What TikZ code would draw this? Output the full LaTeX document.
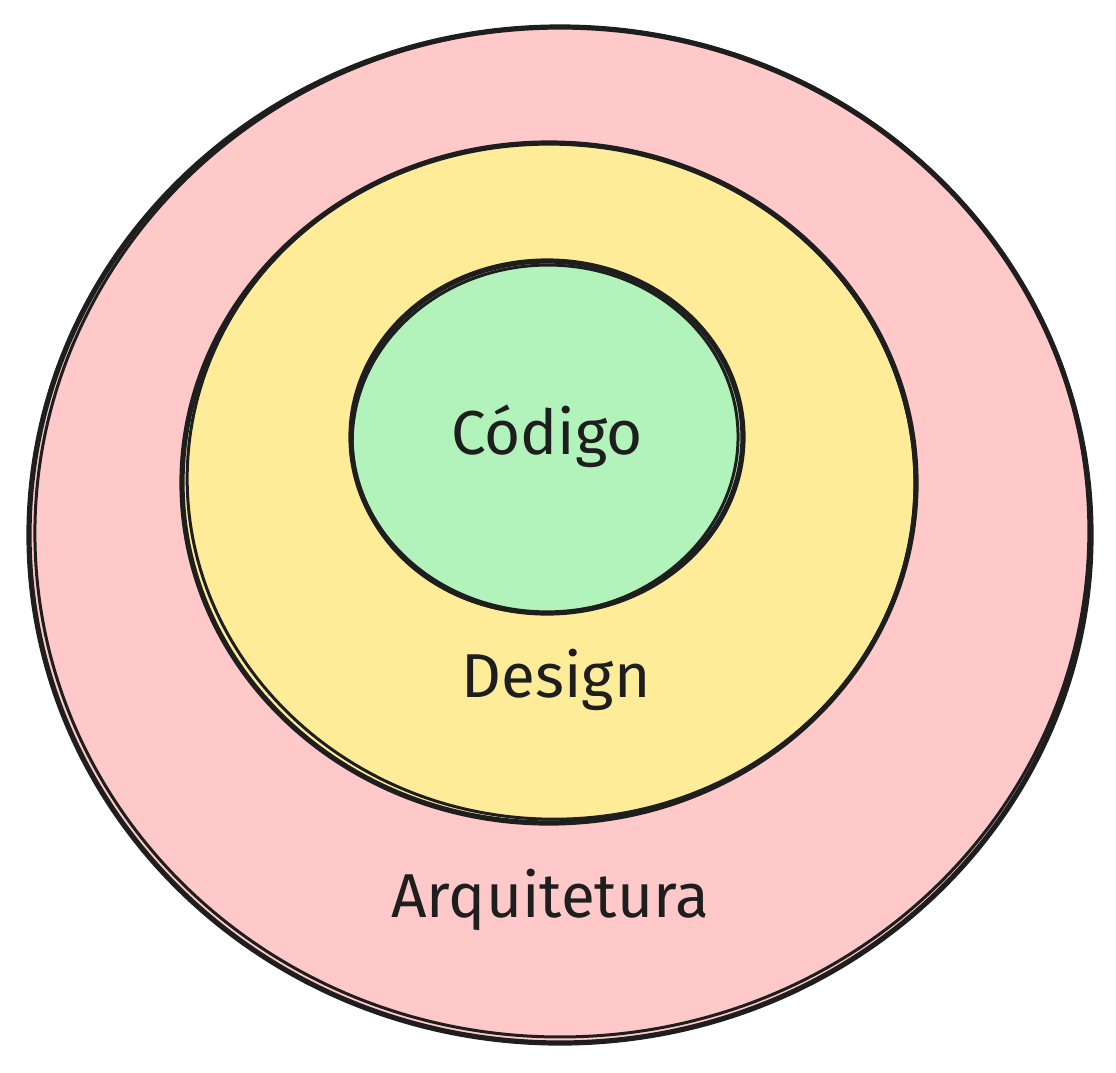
\documentclass[tikz,border=0pt]{standalone}
\usepackage{fontspec}
\setmainfont{Fira Sans}
\definecolor{pinkfill}{HTML}{FFC9C9}
\definecolor{yellowfill}{HTML}{FFEC99}
\definecolor{greenfill}{HTML}{B2F2BB}
\definecolor{ink}{HTML}{1E1E1E}
\begin{document}
\begin{tikzpicture}[x=1pt,y=-1pt,
  stroke/.style={draw=ink,line width=5.2pt},
  stroke2/.style={draw=ink,line width=3pt},
  label/.style={font=\fontsize{62}{68}\selectfont,text=ink,inner sep=0pt}]
\useasboundingbox (0,0) rectangle (1116,1072);
% outer (Arquitetura)
\fill[pinkfill] (560,535) ellipse [x radius=531, y radius=508];
\draw[stroke] (560,535) ellipse [x radius=531, y radius=508];
\draw[stroke2, rotate around={2:(560,535)}] (562,532) ellipse [x radius=527, y radius=505];
% middle (Design)
\fill[yellowfill] (549,483) ellipse [x radius=367, y radius=340];
\draw[stroke] (549,483) ellipse [x radius=367, y radius=340];
\draw[stroke2, rotate around={-3:(549,483)}] (551,481) ellipse [x radius=364, y radius=338];
% inner (Codigo)
\fill[greenfill] (547,437) ellipse [x radius=196, y radius=176];
\draw[stroke] (547,437) ellipse [x radius=196, y radius=176];
\draw[stroke2, rotate around={4:(547,437)}] (545,439) ellipse [x radius=193, y radius=174];
% labels
\node[label] (codigo) at (547,436) {Código};
\node[label] (design) at (556,680) {Design};
\node[label] (arq) at (550,900) {Arquitetura};
\end{tikzpicture}
\end{document}
